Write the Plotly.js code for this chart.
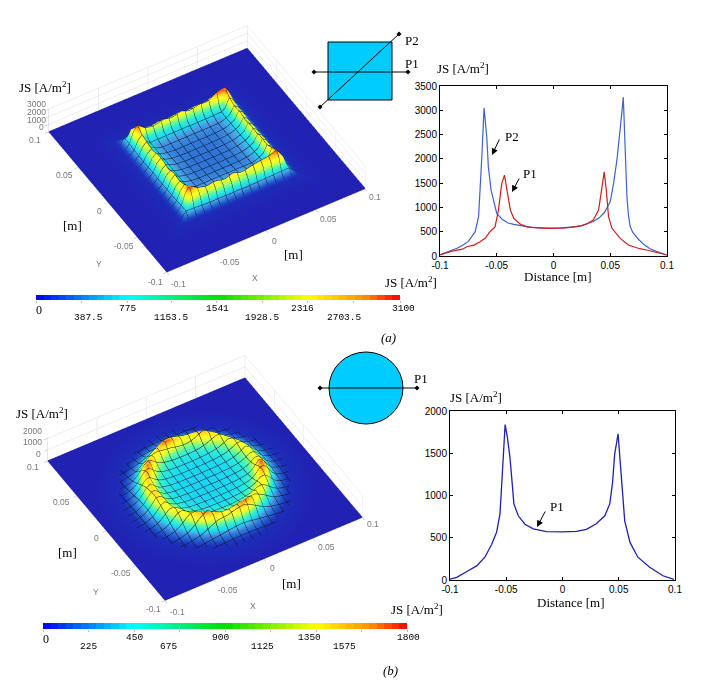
<!DOCTYPE html>
<html><head><meta charset="utf-8">
<script src="https://cdn.plot.ly/plotly-3.0.1.min.js"></script>
<style>html,body{margin:0;padding:0;background:#fff}</style></head>
<body><div id="c" style="width:706px;height:694px"></div>
<script>
// ---- line chart (a)
const p1X=[-0.1,-0.095,-0.09,-0.085,-0.08,-0.0765,-0.07,-0.0647,-0.06,-0.056,-0.0515,-0.0485,-0.0456,-0.0432,-0.0406,-0.038,-0.035,-0.0294,-0.0235,-0.02,-0.015,-0.01,-0.005,0,0.005,0.01,0.015,0.02,0.025,0.03,0.035,0.0397,0.042,0.0447,0.0465,0.0485,0.0515,0.0588,0.066,0.07,0.076,0.082,0.09,0.095,0.1];
const p1Y=[20,60,95,120,140,190,225,295,370,500,600,945,1490,1665,1290,945,775,660,600,590,585,575,570,570,572,578,590,605,625,670,740,945,1356,1733,1356,808,570,363,226,190,150,123,80,50,20];
const p2X=[-0.1,-0.095,-0.09,-0.085,-0.08,-0.075,-0.069,-0.066,-0.063,-0.0618,-0.0612,-0.0588,-0.0574,-0.055,-0.05,-0.045,-0.04,-0.035,-0.03,-0.0235,-0.02,-0.015,-0.01,-0.005,0,0.005,0.01,0.015,0.02,0.025,0.03,0.035,0.04,0.045,0.05,0.053,0.056,0.058,0.06,0.0615,0.0632,0.0647,0.066,0.0676,0.07,0.075,0.08,0.085,0.09,0.095,0.1];
const p2Y=[30,70,110,160,220,300,500,808,2110,2860,3050,2450,1835,1356,877,750,680,650,630,600,590,585,575,570,570,572,578,590,605,625,660,710,780,900,1120,1500,2000,2400,2900,3270,1970,1220,850,600,480,340,230,150,100,60,20];
// ---- line chart (b)
const p3X=[-0.1,-0.094,-0.085,-0.076,-0.069,-0.063,-0.0586,-0.0556,-0.054,-0.0527,-0.051,-0.049,-0.0467,-0.0447,-0.0432,-0.0393,-0.0334,-0.026,-0.0142,0,0.0124,0.0213,0.03,0.0376,0.042,0.0444,0.0464,0.0494,0.0515,0.0553,0.06,0.067,0.0775,0.0893,0.099];
const p3Y=[10,32,100,170,270,420,565,780,1140,1530,1840,1690,1450,1140,900,760,660,605,573,570,575,600,665,760,900,1140,1490,1730,1375,700,445,270,150,50,8];
const xTicks=[-0.1,-0.05,0,0.05,0.1], xText=['-0.1','-0.05','0','0.05','0.1'];
const yTicksA=[0,500,1000,1500,2000,2500,3000,3500];
const yTicksB=[0,500,1000,1500,2000];
// ---- surface tables (a): radial section and ridge height per side
const sqD=[0,0.01,0.02,0.03,0.035,0.04,0.044,0.048,0.052,0.056,0.06,0.065,0.07,0.08,0.09,0.1];
const sqZ=[570,578,610,730,900,1150,1700,1500,760,380,200,120,80,50,30,20];
const sqW=[0,0,0,0,0.05,0.3,1,0.6,0.15,0,0,0,0,0,0,0];
const sideT=[-0.044,-0.036,-0.027,-0.018,-0.009,0,0.009,0.018,0.027,0.036,0.044];
const ridgeYpos=[3000,2150,1950,2300,2050,2400,1950,2300,2150,2950,3150];
const ridgeXpos=[3000,2550,2150,2300,2100,2200,2050,2300,2150,2500,3150];
const ridgeYneg=[3100,2450,2100,2350,2000,2400,2000,2300,2500,2650,3000];
const ridgeXneg=[3100,2550,2200,2450,2000,2300,2350,2000,2250,2450,3000];
// ---- surface tables (b)
const ciD=[0,0.015,0.025,0.032,0.038,0.042,0.046,0.05,0.054,0.058,0.062,0.067,0.072,0.08,0.09,0.1];
const ciZ=[570,575,605,660,770,950,1300,1700,1350,800,440,270,170,100,50,15];
const ciW=[0,0,0,0,0,0.15,0.55,1,0.7,0.2,0,0,0,0,0,0];
const ringA=[0,20,40,60,80,100,120,140,160,180,200,220,240,260,280,300,320,340,360];
const ringZ=[1300,1350,1300,1650,1350,1850,1400,1800,1500,1600,1350,1400,1750,1350,1800,1400,1350,1850,1300];
// ---- colour bars
const barTicksA=[0,387.5,775,1153.5,1541,1928.5,2316,2703.5,3100];
const barTextA=['0','387.5','775','1153.5','1541','1928.5','2316','2703.5','3100'];
const barTicksB=[0,225,450,675,900,1125,1350,1575,1800];
const barTextB=['0','225','450','675','900','1125','1350','1575','1800'];
// ---- 3-D axis labels
const zLabelsA=['3000','2000','1000','0'], zLabelsB=['2000','1000','0'];
const yLabels=['0.1','0.05','0','-0.05','-0.1'], xLabels=['-0.1','-0.05','0','0.05','0.1'];

const P=(x)=>x/706, Q=(y)=>1-y/694;
function lerp(xs,ys,v){ if(v<=xs[0])return ys[0]; for(let i=1;i<xs.length;i++){ if(v<=xs[i]){const t=(v-xs[i-1])/(xs[i]-xs[i-1]);return ys[i-1]+t*(ys[i]-ys[i-1]);}} return ys[ys.length-1]; }
const grid=[]; for(let i=0;i<=50;i++) grid.push(+(-0.1+i*0.004).toFixed(4));
const ridgeRef=1700;
function zSquare(x,y){
  const d=Math.max(Math.abs(x),Math.abs(y)); let tab,t;
  if(Math.abs(y)>=Math.abs(x)){tab=y>0?ridgeYpos:ridgeYneg;t=x;} else {tab=x>0?ridgeXpos:ridgeXneg;t=y;}
  return lerp(sqD,sqZ,d)+(lerp(sideT,tab,t)-ridgeRef)*lerp(sqD,sqW,d);
}
function zCircle(x,y){
  const d=Math.hypot(x,y); let a=Math.atan2(y,x)*180/Math.PI; if(a<0)a+=360;
  return lerp(ciD,ciZ,d)+(lerp(ringA,ringZ,a)-ridgeRef)*lerp(ciD,ciW,d);
}
const Za=grid.map(y=>grid.map(x=>zSquare(x,y)));
const Zb=grid.map(y=>grid.map(x=>zCircle(x,y)));
const jetBar=[[0,'#0000f0'],[0.25,'#00ffff'],[0.5,'#00e000'],[0.75,'#ffff00'],[0.9,'#ff9000'],[1,'#ff0000']];
const jetSurf=[[0,'#2020b4'],[0.09,'#1c30bc'],[0.16,'#2468d4'],[0.26,'#4aa0e4'],[0.32,'#18d8f4'],[0.42,'#30ecd8'],[0.52,'#70fc90'],[0.62,'#d8ff40'],[0.72,'#ffff20'],[0.84,'#ffd020'],[0.93,'#ff7010'],[1,'#f01010']];

function mesh(Z,inLimit,norm,lift){
  const inner={x:[],y:[],z:[]},outer={x:[],y:[],z:[]};
  const add=(o,x,y,z)=>{o.x.push(x);o.y.push(y);o.z.push(z);};
  const seg=(i0,j0,i1,j1)=>{
    const xa=grid[j0],ya=grid[i0],xb=grid[j1],yb=grid[i1];
    const o=norm((xa+xb)/2,(ya+yb)/2)<inLimit?inner:outer;
    add(o,xa,ya,Z[i0][j0]+lift);add(o,xb,yb,Z[i1][j1]+lift);add(o,null,null,null);
  };
  for(let i=0;i<=50;i+=2)for(let j=0;j<50;j++){seg(i,j,i,j+1);seg(j,i,j+1,i);}
  return {inner,outer};
}
const maxN=(x,y)=>Math.max(Math.abs(x),Math.abs(y)), hypN=(x,y)=>Math.hypot(x,y);
const ma=mesh(Za,0.056,maxN,25), mb=mesh(Zb,0.075,hypN,12);
const lineTr=(m,color,scene,w)=>({type:'scatter3d',mode:'lines',x:m.x,y:m.y,z:m.z,line:{color:color,width:w},scene:scene,showlegend:false,hoverinfo:'skip',connectgaps:false});
const surf=(Z,zmax,scene)=>({type:'surface',x:grid,y:grid,z:Z,cmin:0,cmax:zmax,colorscale:jetSurf,showscale:false,scene:scene,hoverinfo:'skip',
  lighting:{ambient:1,diffuse:0.1,specular:0,roughness:0.9,fresnel:0},lightposition:{x:-2000,y:-2500,z:700}});

const lvlA=[],lvlB=[]; for(let i=0;i<48;i++){lvlA.push((i+0.5)*3100/48);lvlB.push((i+0.5)*1800/48);}
const bar=(lv,max,xa,ya)=>({type:'heatmap',x:lv,y:[0],z:[lv],zmin:0,zmax:max,colorscale:jetBar,showscale:false,xaxis:xa,yaxis:ya,hoverinfo:'skip'});

const traces=[
 surf(Za,3100,'scene'),lineTr(ma.outer,'#2626a4','scene',1),lineTr(ma.inner,'#101020','scene',1),
 surf(Zb,1800,'scene2'),lineTr(mb.outer,'#2626a4','scene2',1),lineTr(mb.inner,'#101020','scene2',1),
 {type:'scatter',mode:'lines',x:p2X,y:p2Y,line:{color:'#3f63c8',width:1.2},xaxis:'x',yaxis:'y',showlegend:false},
 {type:'scatter',mode:'lines',x:p1X,y:p1Y,line:{color:'#cc1f1f',width:1.2},xaxis:'x',yaxis:'y',showlegend:false},
 {type:'scatter',mode:'lines',x:p3X,y:p3Y,line:{color:'#2020b0',width:1.3},xaxis:'x2',yaxis:'y2',showlegend:false},
 bar(lvlA,3100,'x3','y3'),bar(lvlB,1800,'x4','y4')
];

const ax3=(range,ticks)=>({range:range,tickvals:ticks,showticklabels:false,title:{text:''},
  showbackground:false,showgrid:true,gridcolor:'#dedede',gridwidth:1,zeroline:false,showline:true,linecolor:'#d0d0d0',linewidth:1,
  ticks:'outside',ticklen:4,tickcolor:'#aaa',showspikes:false});
const cam=(k)=>({eye:{x:-0.361*k,y:-0.607*k,z:0.707*k},center:{x:0,y:0,z:0},up:{x:0,y:0,z:1},projection:{type:'orthographic'}});
const sceneOf=(dom,zr,zt,s)=>({domain:dom,camera:cam(2),aspectmode:'manual',aspectratio:{x:s,y:s,z:0.14*s},bgcolor:'rgba(0,0,0,0)',
  xaxis:ax3([-0.1,0.1],xTicks),yaxis:ax3([-0.1,0.1],xTicks),zaxis:ax3(zr,zt)});
const ax2=(dom,range,ticks,text,anchor,fs)=>({domain:dom,range:range,tickvals:ticks,ticktext:text,anchor:anchor,ticks:'inside',ticklen:3,tickcolor:'#000',tickwidth:1,
  showline:true,mirror:'ticks',linecolor:'#000',linewidth:1,showgrid:false,zeroline:false,tickfont:{family:'Liberation Sans',size:fs,color:'#000'}});
const barX=(dom,max,vals,anchor)=>({domain:dom,range:[0,max],tickvals:vals,ticktext:vals.map(()=>''),ticks:'outside',ticklen:2,tickcolor:'#bbb',anchor:anchor,showgrid:false,zeroline:false,showline:false});
const barY=(dom,anchor)=>({domain:dom,range:[-0.5,0.5],visible:false,anchor:anchor});

const serif='Liberation Serif';
const T=(text,x,y,size,extra)=>Object.assign({text:text,xref:'paper',yref:'paper',x:P(x),y:Q(y),xanchor:'center',yanchor:'middle',showarrow:false,font:{family:serif,size:size||13,color:'#000'}},extra||{});
const js='JS [A/m<sup>2</sup>]';
const anns=[
 T(js,45,87),T('[m]',72,226),T('[m]',293,254),T(js,411,282),T('<i>(a)</i>',388,337),
 T('P2',412,40),T('P1',412,63),T(js,463,68),T('Distance [m]',558,276),T('P2',512,136),T('P1',530,174),
 T(js,42,413),T('[m]',67,552),T('[m]',291,583),T(js,417,609),T('<i>(b)</i>',391,670),
 T('P1',421,378),T(js,476,397),T('Distance [m]',571,602),T('P1',557,506)
];
function arrow(x0,y0,x1,y1){anns.push({xref:'paper',yref:'paper',axref:'paper',ayref:'paper',x:P(x1),y:Q(y1),ax:P(x0),ay:Q(y0),text:'',showarrow:true,arrowhead:2,arrowsize:1.3,arrowwidth:1,arrowcolor:'#000'});}
arrow(500,138,492,155);arrow(520,177,512,192);arrow(546,510,537,527);
const mono='Liberation Mono';
const pxA=[39,88,127,171,217,262,302,344,403], pxB=[46,88,134,168,220,262,309,344,408];
barTextA.forEach((t,i)=>anns.push(T(t,pxA[i],i==0?310:(i%2?317:308),9.5,i==0?{font:{family:serif,size:12,color:'#000'}}:{font:{family:mono,size:9.5,color:'#000'}})));
barTextB.forEach((t,i)=>anns.push(T(t,pxB[i],i==0?639:(i%2?646:637),9.5,i==0?{font:{family:serif,size:12,color:'#000'}}:{font:{family:mono,size:9.5,color:'#000'}})));
const G={font:{family:'Liberation Sans',size:8.5,color:'#777'}};
const put=(labels,pos)=>labels.forEach((t,i)=>anns.push(T(t,pos[i][0],pos[i][1],9,G)));
put(zLabelsA,[[36,104],[36,112],[36,120],[41,127]]);
put(yLabels,[[35,140],[64,175],[99,211],[124,246],[155,282]]);
put(xLabels,[[179,284],[230,262],[274,241],[328,219],[375,197]]);
put(['Y','X'],[[99,264],[255,278]]);
put(zLabelsB,[[32,431],[32,442],[38,454]]);
put(yLabels,[[33,467],[61,502],[96,538],[121,573],[153,609]]);
put(xLabels,[[177,612],[228,590],[272,568],[326,547],[373,524]]);
put(['Y','X'],[[96,592],[253,606]]);

const L=(x0,y0,x1,y1)=>({type:'line',xref:'paper',yref:'paper',x0:P(x0),y0:Q(y0),x1:P(x1),y1:Q(y1),line:{color:'#000',width:1}});
const dia=(x,y)=>({type:'path',xref:'paper',yref:'paper',path:`M ${P(x-2.5)} ${Q(y)} L ${P(x)} ${Q(y-2.5)} L ${P(x+2.5)} ${Q(y)} L ${P(x)} ${Q(y+2.5)} Z`,fillcolor:'#000',line:{color:'#000',width:0}});
const shapes=[
 {type:'rect',xref:'paper',yref:'paper',x0:P(328),y0:Q(42),x1:P(392),y1:Q(100),fillcolor:'#00ccff',line:{color:'#000',width:1}},
 L(314,72,408,72),L(320,107,399,34),dia(314,72),dia(408,72),dia(320,107),dia(399,34),
 {type:'circle',xref:'paper',yref:'paper',x0:P(329),y0:Q(352),x1:P(403),y1:Q(424),fillcolor:'#00ccff',line:{color:'#000',width:1}},
 L(320,388,417,388),dia(320,388),dia(417,388)
];
const layout={width:706,height:694,autosize:false,margin:{l:0,r:0,t:0,b:0},paper_bgcolor:'#fff',plot_bgcolor:'rgba(0,0,0,0)',showlegend:false,
 scene:sceneOf({x:[0,414/706],y:[Q(298),Q(0)]},[0,3000],[0,1000,2000,3000],1.55),
 scene2:sceneOf({x:[0,410/706],y:[Q(618),Q(338)]},[0,2000],[0,1000,2000],1.64),
 xaxis:ax2([P(440),P(667)],[-0.1,0.1],xTicks,xText,'y',10),
 yaxis:ax2([Q(256),Q(86)],[0,3500],yTicksA,yTicksA.map(String),'x',10),
 xaxis2:ax2([P(450),P(675)],[-0.1,0.1],xTicks,xText,'y2',10),
 yaxis2:ax2([Q(580),Q(411)],[0,2000],yTicksB,yTicksB.map(String),'x2',10),
 xaxis3:barX([P(36),P(400)],3100,barTicksA,'y3'),yaxis3:barY([Q(300),Q(295)],'x3'),
 xaxis4:barX([P(43),P(407)],1800,barTicksB,'y4'),yaxis4:barY([Q(629),Q(623)],'x4'),
 annotations:anns,shapes:shapes};
Plotly.newPlot('c',traces,layout,{displayModeBar:false,staticPlot:false});
</script></body></html>
